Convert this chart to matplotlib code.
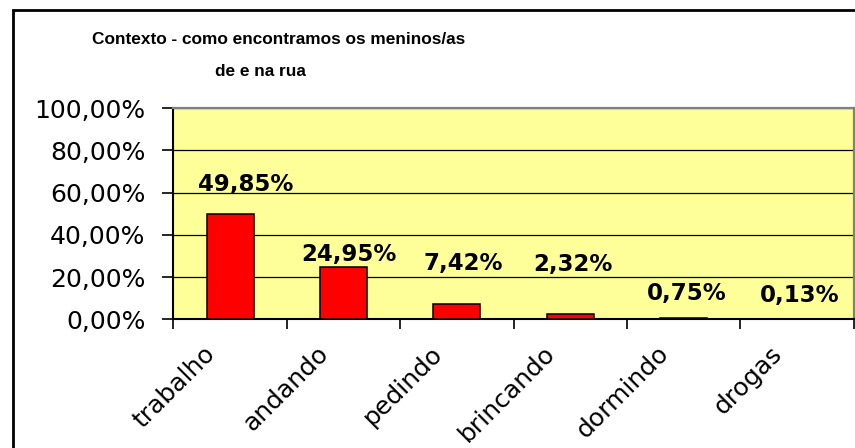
import numpy as np
import matplotlib
matplotlib.use('Agg')
import matplotlib.pyplot as plt
import matplotlib.transforms as mtransforms
from matplotlib.patches import Rectangle

# data
categories = ['trabalho', 'andando', 'pedindo', 'brincando', 'dormindo', 'drogas']
values = [49.85, 24.95, 7.42, 2.32, 0.75, 0.13]
y_ticks = [0, 20, 40, 60, 80, 100]
title_lines = ['Contexto - como encontramos os meninos/as', 'de e na rua']

# hand-placed value labels in the original (x shift in categories, y in %)
label_dx = [0.14, 0.05, 0.06, 0.02, 0.03, 0.02]
label_y = [64.1, 30.9, 26.4, 26.2, 12.3, 11.5]


def pct(v):
    return f"{v:.2f}%".replace('.', ',')


W, H = 855, 448
fig = plt.figure(figsize=(W / 100, H / 100), dpi=100)
ax = fig.add_axes([173.4 / W, 1 - 319.3 / H, (853.7 - 173.4) / W, (319.3 - 108.3) / H])
ax.set_facecolor('#FFFF99')

x = np.arange(len(categories))
ax.bar(x, values, width=0.415, color='#FF0000', edgecolor='black', linewidth=1.1, zorder=3)

ax.set_xlim(-0.5, len(categories) - 0.5)
ax.set_ylim(0, 100)

# gridlines
ax.set_axisbelow(True)
ax.yaxis.grid(True, color='black', linewidth=0.9)

# y axis
ax.set_yticks(y_ticks)
ax.set_yticklabels([pct(v) for v in y_ticks], fontsize=18)
ax.tick_params(axis='y', length=8, width=1.2, pad=12, direction='out')

# x axis: tick marks between categories, labels at the centres
ax.set_xticks(x)
ax.set_xticklabels(categories, rotation=45, ha='right', fontsize=18)
ax.set_xticks(np.arange(-0.5, len(categories), 1), minor=True)
ax.tick_params(axis='x', which='major', length=0, pad=16)
ax.tick_params(axis='x', which='minor', length=7.5, width=1.2, direction='out')
offset = mtransforms.ScaledTranslation(-0.10, 0, fig.dpi_scale_trans)
for lab in ax.get_xticklabels():
    lab.set_transform(lab.get_transform() + offset)

for side in ['left', 'bottom']:
    ax.spines[side].set_color('black')
    ax.spines[side].set_linewidth(1.5)
for side in ['top', 'right']:
    ax.spines[side].set_color('#808080')
    ax.spines[side].set_linewidth(1.6)

# value labels
for i, v in enumerate(values):
    ax.text(i + label_dx[i], label_y[i], pct(v), ha='center', va='center',
            fontsize=16.5, fontweight='bold', zorder=4)

# title
title_font = ['Liberation Sans', 'DejaVu Sans']
fig.text(279 / W, 1 - 39 / H, title_lines[0], ha='center', va='center',
         fontsize=12.4, fontweight='bold', family=title_font)
fig.text(260 / W, 1 - 72 / H, title_lines[1], ha='center', va='center',
         fontsize=12.4, fontweight='bold', family=title_font)

# outer chart frame (cropped on the right and bottom)
fig.add_artist(Rectangle((13 / W, -0.1), 1.2, 1 - 10 / H + 0.1,
                         transform=fig.transFigure, fill=False,
                         edgecolor='black', linewidth=2))

fig.savefig('out.png', dpi=100)
